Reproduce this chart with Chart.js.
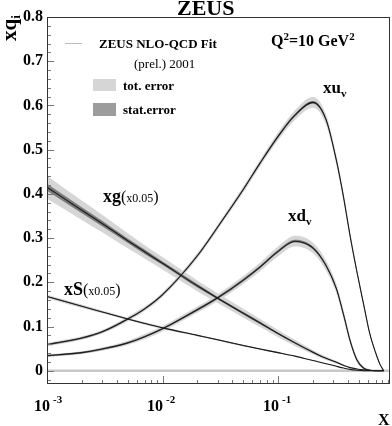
<!DOCTYPE html>
<html lang="en">
<head>
  <meta charset="UTF-8">
  <title>ZEUS NLO-QCD Fit</title>
  <script src="https://cdn.jsdelivr.net/npm/chart.js"></script>
  <style>
    body { margin: 0; background: #fff; }
    #wrap { position: relative; width: 392px; height: 426px; font-family: "Liberation Serif", "Times New Roman", serif; color: #000; }
    #wrap canvas { position: absolute; left: 0; top: 0; }
    .t { position: absolute; white-space: nowrap; line-height: 1; }
    .b { font-weight: bold; }
    .sub { font-size: 11px; position: relative; top: 4px; }
    .sup { font-size: 11px; position: relative; top: -8px; }
  </style>
</head>
<body>
<div id="wrap">
  <canvas id="grafico" width="392" height="426"></canvas>

  <!-- titulos e rotulos -->
  <div class="t b" style="left:177px;top:-3px;font-size:22px;">ZEUS</div>
  <div class="t b" style="left:-1px;top:41px;font-size:21px;transform:rotate(-90deg);transform-origin:left top;">xq<span class="sub" style="font-size:13px;">i</span></div>
  <div class="t b" style="left:378px;top:412px;font-size:16px;">X</div>

  <!-- legenda -->
  <div class="t" style="left:65px;top:43px;width:17px;height:1px;background:#bbb;"></div>
  <div class="t b" style="left:99px;top:37px;font-size:13px;">ZEUS NLO-QCD Fit</div>
  <div class="t" style="left:134px;top:57px;font-size:13px;">(prel.) 2001</div>
  <div class="t" style="left:93px;top:79px;width:23px;height:12px;background:#d6d6d6;"></div>
  <div class="t b" style="left:123px;top:79px;font-size:13px;">tot. error</div>
  <div class="t" style="left:93px;top:103px;width:23px;height:13px;background:#9c9c9c;"></div>
  <div class="t b" style="left:123px;top:103px;font-size:13px;">stat.error</div>

  <div class="t b" style="left:271px;top:33px;font-size:16px;">Q<span class="sup" style="top:-6px;">2</span>=10 GeV<span class="sup" style="top:-6px;">2</span></div>

  <!-- nomes das curvas -->
  <div class="t b" style="left:323px;top:79px;font-size:17px;">xu<span class="sub">v</span></div>
  <div class="t b" style="left:288px;top:207px;font-size:17px;">xd<span class="sub">v</span></div>
  <div class="t" style="left:103px;top:187px;"><span class="b" style="font-size:18px;">xg</span><span style="font-size:16px;">(</span><span style="font-size:12px;">x0.05</span><span style="font-size:16px;">)</span></div>
  <div class="t" style="left:64px;top:280px;"><span class="b" style="font-size:18px;">xS</span><span style="font-size:16px;">(</span><span style="font-size:12px;">x0.05</span><span style="font-size:16px;">)</span></div>

  <!-- rotulos do eixo x -->
  <div class="t b" style="left:34px;top:398px;font-size:16px;">10<span class="sup" style="margin-left:3px;">-3</span></div>
  <div class="t b" style="left:147px;top:398px;font-size:16px;">10<span class="sup" style="margin-left:3px;">-2</span></div>
  <div class="t b" style="left:263px;top:398px;font-size:16px;">10<span class="sup" style="margin-left:3px;">-1</span></div>
</div>

<script>
  // valores de x (comuns a todas as curvas)
  const xs = [0.001, 0.002, 0.003, 0.005, 0.007, 0.01, 0.02, 0.03, 0.05, 0.07, 0.1, 0.14,
              0.2, 0.26, 0.32, 0.37, 0.42, 0.48, 0.55, 0.62, 0.7, 0.76, 0.82];

  // xu_v
  const xuv     = [0.059, 0.074, 0.088, 0.117, 0.14, 0.172, 0.26, 0.325, 0.41, 0.47, 0.53, 0.578,
                   0.607, 0.568, 0.475, 0.39, 0.305, 0.225, 0.15, 0.085, 0.04, 0.015, 0.0];
  const xuvTot  = [0.004, 0.004, 0.004, 0.005, 0.005, 0.005, 0.006, 0.006, 0.007, 0.008, 0.009, 0.011,
                   0.012, 0.012, 0.011, 0.01, 0.009, 0.008, 0.007, 0.005, 0.003, 0.002, 0.0];
  const xuvStat = [0.002, 0.002, 0.002, 0.002, 0.002, 0.002, 0.002, 0.002, 0.002, 0.002, 0.003, 0.003,
                   0.003, 0.003, 0.003, 0.003, 0.002, 0.002, 0.002, 0.002, 0.001, 0.001, 0.0];

  // xd_v
  const xdv     = [0.034, 0.041, 0.049, 0.063, 0.077, 0.095, 0.138, 0.165, 0.205, 0.235, 0.27, 0.293,
                   0.278, 0.238, 0.185, 0.125, 0.068, 0.025, 0.006, 0.001, 0.0, 0.0, 0.0];
  const xdvTot  = [0.003, 0.003, 0.004, 0.005, 0.006, 0.006, 0.007, 0.008, 0.009, 0.01, 0.011, 0.012,
                   0.012, 0.012, 0.011, 0.01, 0.008, 0.006, 0.004, 0.002, 0.001, 0.0, 0.0];
  const xdvStat = [0.002, 0.002, 0.002, 0.002, 0.002, 0.002, 0.003, 0.003, 0.003, 0.003, 0.003, 0.003,
                   0.003, 0.003, 0.003, 0.003, 0.003, 0.002, 0.002, 0.001, 0.0, 0.0, 0.0];

  // xg (x0.05)
  const xg      = [0.415, 0.363, 0.333, 0.294, 0.269, 0.243, 0.192, 0.164, 0.13, 0.108, 0.084, 0.063,
                   0.042, 0.028, 0.019, 0.012, 0.007, 0.004, 0.002, 0.001, 0.0, 0.0, 0.0];
  const xgTot   = [0.026, 0.022, 0.02, 0.017, 0.015, 0.014, 0.012, 0.011, 0.01, 0.009, 0.008, 0.007,
                   0.005, 0.004, 0.003, 0.002, 0.001, 0.001, 0.0, 0.0, 0.0, 0.0, 0.0];
  const xgStat  = [0.008, 0.007, 0.006, 0.005, 0.005, 0.004, 0.004, 0.003, 0.003, 0.003, 0.002, 0.002,
                   0.002, 0.001, 0.001, 0.001, 0.0, 0.0, 0.0, 0.0, 0.0, 0.0, 0.0];

  // xS (x0.05)
  const xS      = [0.168, 0.146, 0.133, 0.117, 0.107, 0.097, 0.08, 0.07, 0.057, 0.049, 0.041, 0.033,
                   0.023, 0.016, 0.01, 0.006, 0.003, 0.001, 0.0, 0.0, 0.0, 0.0, 0.0];
  const xSTot   = [0.004, 0.004, 0.003, 0.003, 0.003, 0.003, 0.002, 0.002, 0.002, 0.002, 0.002, 0.001,
                   0.001, 0.001, 0.001, 0.0, 0.0, 0.0, 0.0, 0.0, 0.0, 0.0, 0.0];
  const xSStat  = [0.001, 0.001, 0.001, 0.001, 0.001, 0.001, 0.001, 0.001, 0.001, 0.001, 0.001, 0.0,
                   0.0, 0.0, 0.0, 0.0, 0.0, 0.0, 0.0, 0.0, 0.0, 0.0, 0.0];

  const yTicks = [0, 0.1, 0.2, 0.3, 0.4, 0.5, 0.6, 0.7, 0.8];

  const pontos = vals => vals.map((v, i) => ({ x: xs[i], y: v }));

  // faixa de erro: par de datasets (superior preenche ate o inferior)
  function faixa(vals, err, cor, ordem) {
    const comum = { pointRadius: 0, borderWidth: 0, cubicInterpolationMode: 'monotone', order: ordem };
    return [
      { ...comum, data: pontos(vals.map((v, i) => v + err[i])), fill: '+1', backgroundColor: cor },
      { ...comum, data: pontos(vals.map((v, i) => v - err[i])), fill: false }
    ];
  }

  function linha(vals) {
    return { data: pontos(vals), borderColor: '#1a1a1a', borderWidth: 1.1, fill: false,
             pointRadius: 0, cubicInterpolationMode: 'monotone', order: 1 };
  }

  const datasets = [
    ...faixa(xuv, xuvTot, '#d6d6d6', 3),
    ...faixa(xdv, xdvTot, '#d6d6d6', 3),
    ...faixa(xg, xgTot, '#d6d6d6', 3),
    ...faixa(xS, xSTot, '#d6d6d6', 3),
    ...faixa(xuv, xuvStat, '#7c7c7c', 2),
    ...faixa(xdv, xdvStat, '#7c7c7c', 2),
    ...faixa(xg, xgStat, '#7c7c7c', 2),
    ...faixa(xS, xSStat, '#7c7c7c', 2),
    linha(xuv), linha(xdv), linha(xg), linha(xS)
  ];

  // moldura, linha do zero e marcas internas
  const moldura = {
    id: 'moldura',
    beforeDatasetsDraw(chart) {
      const { ctx, chartArea: a, scales: { y } } = chart;
      const y0 = y.getPixelForValue(0);
      ctx.save();
      ctx.strokeStyle = '#c8c8c8';
      ctx.lineWidth = 2.5;
      ctx.beginPath();
      ctx.moveTo(a.left, y0);
      ctx.lineTo(a.right, y0);
      ctx.stroke();
      ctx.restore();
    },
    afterDraw(chart) {
      const { ctx, chartArea: a, scales: { x, y } } = chart;
      ctx.save();
      ctx.strokeStyle = '#777';
      ctx.lineWidth = 1;
      ctx.beginPath();
      for (let i = -1; i <= 40; i++) {
        const v = i * 0.02;
        if (v < y.min || v > y.max) continue;
        const py = Math.round(y.getPixelForValue(v)) + 0.5;
        const len = i % 5 === 0 ? 7 : 4;
        ctx.moveTo(a.left, py);
        ctx.lineTo(a.left + len, py);
      }
      for (let d = -3; d <= -1; d++) {
        for (let k = 1; k <= 9; k++) {
          const v = k * Math.pow(10, d);
          if (v > x.max) continue;
          const px = Math.round(x.getPixelForValue(v)) + 0.5;
          const len = k === 1 ? 8 : 4;
          ctx.moveTo(px, a.bottom);
          ctx.lineTo(px, a.bottom - len);
        }
      }
      ctx.stroke();
      ctx.strokeStyle = '#333';
      ctx.strokeRect(a.left + 0.5, a.top + 0.5, a.right - a.left - 1, a.bottom - a.top - 1);
      ctx.restore();
    }
  };

  new Chart(document.getElementById('grafico').getContext('2d'), {
    type: 'line',
    data: { datasets },
    options: {
      responsive: false,
      animation: false,
      layout: { padding: { top: 17, right: 2, left: 0, bottom: 0 } },
      plugins: { legend: { display: false }, tooltip: { enabled: false } },
      scales: {
        x: {
          type: 'logarithmic',
          min: 0.001,
          max: 0.93,
          grid: { display: false },
          border: { display: false },
          ticks: { display: false },
          afterFit: s => { s.height = 42; }
        },
        y: {
          min: -0.03,
          max: 0.8,
          afterBuildTicks: s => { s.ticks = yTicks.map(v => ({ value: v })); },
          grid: { display: false, drawTicks: false },
          border: { display: false },
          ticks: {
            padding: 4,
            color: '#000',
            font: { family: 'Liberation Serif', size: 16, weight: 'bold' },
            callback: v => (v === 0 ? '0' : v.toFixed(1))
          },
          afterFit: s => { s.width = 47; }
        }
      }
    },
    plugins: [moldura]
  });
</script>
</body>
</html>
